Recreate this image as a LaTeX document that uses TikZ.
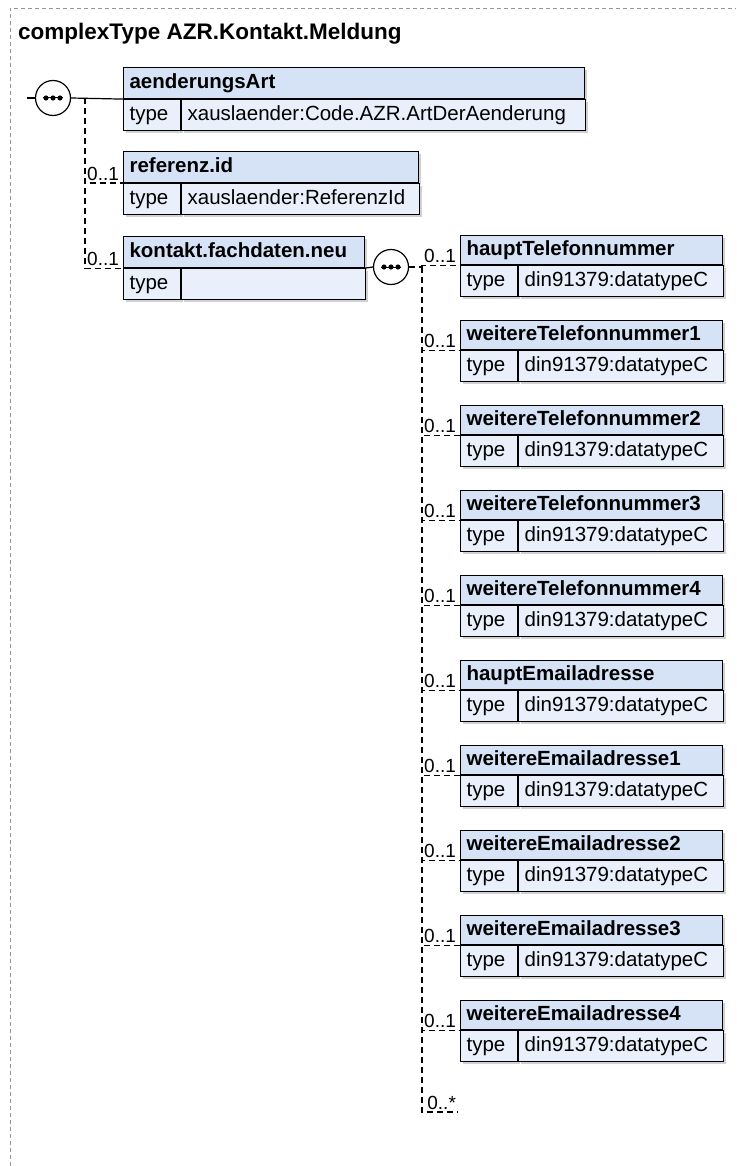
\documentclass[tikz,border=0pt]{standalone}
\usepackage{fontspec}
\setmainfont{Liberation Sans}
\usetikzlibrary{positioning, shadows}
\definecolor{hdrbg}{RGB}{214,227,247}
\definecolor{rowbg}{RGB}{233,240,251}
\definecolor{framegray}{RGB}{150,150,150}

\begin{document}
\begin{tikzpicture}[x=1pt, y=-1pt,
		hdr/.style={draw, fill=hdrbg, anchor=north west, line width=1.1pt,
			font=\fontsize{20.5}{20.5}\selectfont\bfseries, align=left,
			inner xsep=6pt, inner ysep=0pt, minimum height=31, text height=15, text depth=4,
			drop shadow={shadow xshift=2pt, shadow yshift=-2pt, fill=black!30, opacity=.6}},
		keycell/.style={hdr, fill=rowbg, font=\fontsize{20.5}{20.5}\selectfont, text width=45},
		valcell/.style={keycell},
		seq/.style={circle, draw, fill=white, minimum size=35, inner sep=0pt, line width=1.2pt},
		solidline/.style={line width=1.2pt},
		optline/.style={line width=1.2pt, dash pattern=on 6pt off 4pt},
		mult/.style={anchor=south east, font=\fontsize{19}{19}\selectfont, inner sep=1.5pt, xshift=-2pt},
		frame/.style={draw=framegray, line width=0.8pt, dash pattern=on 4pt off 3pt}]
	
	\useasboundingbox (0,0) rectangle (736,1166);
	\draw[frame] (10,1166) -- (10,8) -- (736,8);
	\node[anchor=base west, font=\fontsize{22.5}{22.5}\selectfont\bfseries, inner sep=0pt] (title) at (18,40) {complexType AZR.Kontakt.Meldung};
	
	% outer sequence
	\coordinate (seqAin) at (27,98);
	\node[seq] (seqA) at (53,98) {};
	\coordinate (seqAfork) at (85,98);
	
	\node[hdr, text width=449] (art) at (123,67) {aenderungsArt};
	\node[keycell] (artk) at (art.south west) {type};
	\node[valcell, text width=392] (artv) at (artk.north east) {xauslaender:Code.AZR.ArtDerAenderung};
	
	\node[hdr, text width=283] (ref) at (123,151) {referenz.id};
	\node[keycell] (refk) at (ref.south west) {type};
	\node[valcell, text width=226] (refv) at (refk.north east) {xauslaender:ReferenzId};
	
	\node[hdr, text width=229] (kfd) at (123,236) {kontakt.fachdaten.neu};
	\node[keycell] (kfdk) at (kfd.south west) {type};
	\node[valcell, text width=172] (kfdv) at (kfdk.north east) {};
	
	\draw[solidline] (seqAin) -- (seqA.west);
	\draw[solidline] (seqA.east) -- (art.south west);
	\draw[optline] (seqAfork) |- (ref.south west) node[mult] {0..1};
	\draw[optline] (seqAfork) |- (kfd.south west) node[mult] {0..1};
	
	% inner sequence of kontakt.fachdaten.neu
	\node[seq] (seqB) at (391,267) {};
	\coordinate (seqBfork) at (422,267);
	\coordinate (anyEnd) at (458,1112);
	\draw[solidline] (kfd.south east) -- (seqB.west);
	\draw[optline] (seqB.east) -- (seqBfork);
	
	\foreach \nm [count=\i from 0] in {hauptTelefonnummer, weitereTelefonnummer1,
		weitereTelefonnummer2, weitereTelefonnummer3, weitereTelefonnummer4,
		hauptEmailadresse, weitereEmailadresse1, weitereEmailadresse2,
		weitereEmailadresse3, weitereEmailadresse4} {
		\node[hdr, text width=250, minimum height=29] (c\i) at (460,{235+85*\i}) {\nm};
		\node[keycell] (c\i k) at (c\i.south west) {type};
		\node[valcell, text width=193] (c\i v) at (c\i k.north east) {din91379:datatypeC};
		\draw[optline] (seqBfork) |- (c\i.south west) node[mult] {0..1};
	}
	\draw[optline] (seqBfork) |- (anyEnd) node[mult, xshift=2pt] {0..*};
	
	% dots of the sequence symbols
	\foreach \s in {seqA, seqB} {
		\draw[line width=1pt] ([xshift=-10pt]\s.center) -- ([xshift=10pt]\s.center);
		\foreach \d in {-7,0,7}
			\fill ([xshift=\d pt]\s.center) circle (2.6);
	}
\end{tikzpicture}
\end{document}
